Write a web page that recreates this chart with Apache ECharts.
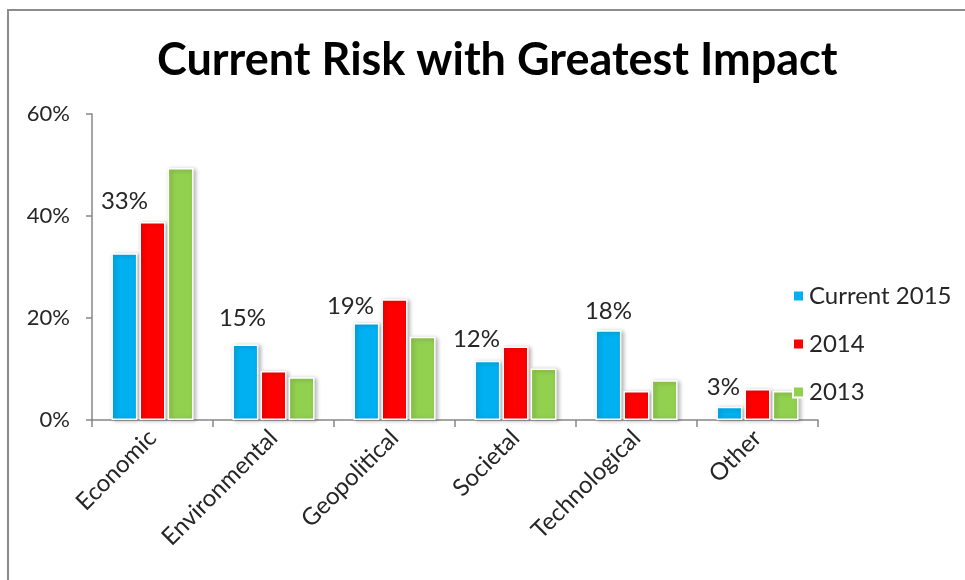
<!DOCTYPE html>
<html>
<head>
<meta charset="utf-8">
<script src="https://cdn.jsdelivr.net/npm/echarts@6/dist/echarts.min.js"></script>
<style>
  html, body { margin: 0; padding: 0; background: #fff; }
  #main { width: 965px; height: 580px; }
</style>
</head>
<body>
<div id="main"></div>
<script>
const categories = ['Economic', 'Environmental', 'Geopolitical', 'Societal', 'Technological', 'Other'];
const seriesNames = ['Current 2015', '2014', '2013'];
const current2015 = [32.7, 14.8, 19.0, 11.6, 17.6, 2.6];
const y2014 = [38.8, 9.6, 23.7, 14.4, 5.7, 6.1];
const y2013 = [49.4, 8.4, 16.3, 10.1, 7.8, 5.7];
const yTicks = [0, 20, 40, 60];

// hand-placed label nudges, like the source chart
const labelNudge = [[0, -35], [-3, -9], [-16, 0], [-11, -5], [0, -2], [-6, -2]];

const colorSets = {
    text: '#262626',
    axis: '#868686',
    blue: '#00B0F0',
    red: '#FF0000',
    green: '#92D050',
    frame: '#8c8c8c'
};
const fontName = 'Lato, "Open Sans", sans-serif';

const barStyle = function (color) {
    return {
        color: color,
        borderColor: '#fff',
        borderWidth: 1.5,
        shadowColor: 'rgba(0,0,0,0.28)',
        shadowBlur: 4,
        shadowOffsetX: 2,
        shadowOffsetY: 1
    };
};

const chart = echarts.init(document.getElementById('main'), null, { renderer: 'canvas' });

chart.setOption({
    backgroundColor: '#fff',
    animation: false,
    textStyle: { fontFamily: fontName },
    graphic: [{
        type: 'rect',
        silent: true,
        shape: { x: 8, y: 10, width: 1200, height: 1000 },
        style: { fill: 'none', stroke: colorSets.frame, lineWidth: 2 }
    }],
    title: {
        text: 'Current Risk with Greatest Impact',
        left: 152,
        top: 33,
        textStyle: {
            fontFamily: fontName,
            fontWeight: 'bold',
            fontSize: 45,
            color: '#000'
        }
    },
    legend: {
        orient: 'vertical',
        left: 787,
        top: 279,
        itemWidth: 11,
        itemHeight: 11,
        itemGap: 24,
        icon: 'rect',
        data: seriesNames,
        textStyle: { fontSize: 24, lineHeight: 24, color: colorSets.text, fontFamily: fontName }
    },
    grid: {
        left: 92,
        right: 147,
        top: 114,
        bottom: 160
    },
    xAxis: {
        type: 'category',
        data: categories,
        axisLine: { lineStyle: { color: colorSets.axis, width: 1.5 } },
        axisTick: { show: true, length: 7, lineStyle: { color: colorSets.axis, width: 1.5 } },
        axisLabel: {
            rotate: 45,
            interval: 0,
            fontSize: 24,
            color: colorSets.text,
            fontFamily: fontName,
            margin: 14
        }
    },
    yAxis: {
        type: 'value',
        min: yTicks[0],
        max: yTicks[yTicks.length - 1],
        interval: yTicks[1] - yTicks[0],
        splitLine: { show: false },
        axisLine: { show: true, lineStyle: { color: colorSets.axis, width: 1.5 } },
        axisTick: { show: true, length: 6, lineStyle: { color: colorSets.axis, width: 1.5 } },
        axisLabel: {
            formatter: '{value}%',
            fontSize: 22,
            color: colorSets.text,
            fontFamily: fontName,
            margin: 22
        }
    },
    series: [
        {
            name: seriesNames[0],
            type: 'bar',
            barWidth: 26,
            barGap: '8%',
            itemStyle: barStyle(colorSets.blue),
            data: current2015.map(function (v, i) {
                return {
                    value: v,
                    label: {
                        show: true,
                        position: 'top',
                        offset: labelNudge[i],
                        formatter: function (p) { return Math.round(p.value) + '%'; },
                        fontSize: 24,
                        color: colorSets.text,
                        fontFamily: fontName
                    }
                };
            })
        },
        {
            name: seriesNames[1],
            type: 'bar',
            barWidth: 26,
            barGap: '8%',
            itemStyle: barStyle(colorSets.red),
            data: y2014
        },
        {
            name: seriesNames[2],
            type: 'bar',
            barWidth: 26,
            barGap: '8%',
            itemStyle: barStyle(colorSets.green),
            data: y2013
        }
    ]
});
</script>
</body>
</html>
